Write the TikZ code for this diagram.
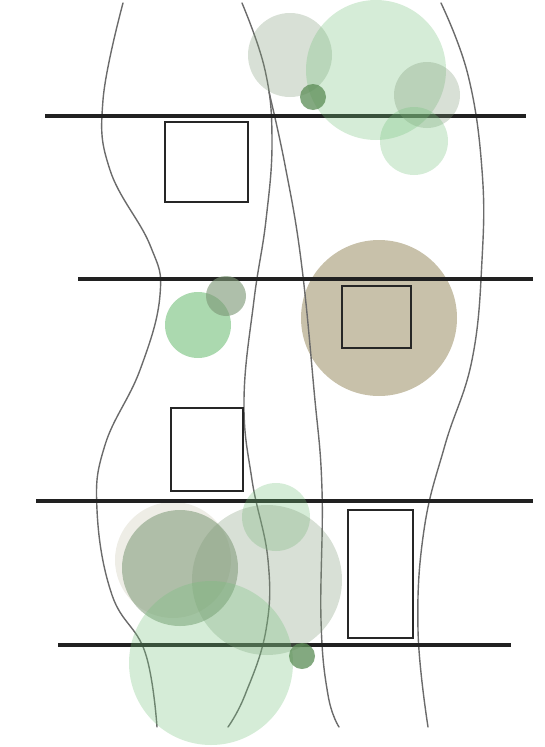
\documentclass[tikz,border=0pt]{standalone}
\definecolor{leaf}{RGB}{115,192,122}
\definecolor{sage}{RGB}{125,152,118}
\definecolor{moss}{RGB}{90,140,85}
\definecolor{soil}{RGB}{200,193,170}
\definecolor{sand}{RGB}{238,237,230}
\begin{document}
\begin{tikzpicture}[x=1pt, y=-1pt,
    strand/.style={line width=1.4pt, black!58, line cap=round},
    beam/.style={line width=4pt, black!87},
    plotbox/.style={line width=2.4pt, black!85},
    crown/.style={fill=#1, draw=none}]
    \useasboundingbox (0,0) rectangle (545,747);
    % Opaque ground discs
    \fill[soil] (379,318) circle[radius=78pt];
    \fill[sand] (173,560) circle[radius=58pt];
    % Wavy strands
    \draw[strand] plot[smooth, tension=0.7] coordinates {(123,3) (103,100) (110,170) (150,245) (160,295) (140,370) (105,445) (97,510) (112,595) (145,652) (157,727)};
    \draw[strand] plot[smooth, tension=0.7] coordinates {(242,3) (265,70) (272,140) (266,220) (254,300) (244,400) (252,480) (268,560) (266,630) (245,695) (228,727)};
    \draw[strand] plot[smooth, tension=0.7] coordinates {(269,92) (285,165) (301,260) (314,390) (322,490) (321,620) (328,695) (339,727)};
    \draw[strand] plot[smooth, tension=0.7] coordinates {(441,3) (468,75) (482,170) (482,260) (472,360) (445,445) (424,530) (418,630) (428,727)};
    % Beams
    \foreach \y/\a/\b in {116/45/526, 279/78/533, 501/36/533, 645/58/511} {
            \draw[beam] (\a,\y) -- (\b,\y);
        }
    % Plots
    \draw[plotbox, fill=white] (165,122) rectangle (248,202);
    \draw[plotbox] (342,286) rectangle (411,348);
    \draw[plotbox, fill=white] (171,408) rectangle (243,491);
    \draw[plotbox, fill=white] (348,510) rectangle (413,638);
    % Crowns, top group
    \fill[crown=sage, opacity=0.3] (290,55) circle[radius=42pt];
    \fill[crown=leaf, opacity=0.3] (376,70) circle[radius=70pt];
    \fill[crown=sage, opacity=0.3] (427,95) circle[radius=33pt];
    \fill[crown=leaf, opacity=0.3] (414,141) circle[radius=34pt];
    \fill[crown=moss, opacity=0.75] (313,97) circle[radius=13pt];
    % Crowns, middle group
    \fill[crown=leaf, opacity=0.6] (198,325) circle[radius=33pt];
    \fill[crown=sage, opacity=0.62] (226,296) circle[radius=20pt];
    % Crowns, bottom group
    \fill[crown=leaf, opacity=0.3] (276,517) circle[radius=34pt];
    \fill[crown=sage, opacity=0.55] (180,568) circle[radius=58pt];
    \fill[crown=sage, opacity=0.3] (267,580) circle[radius=75pt];
    \fill[crown=leaf, opacity=0.3] (211,663) circle[radius=82pt];
    \fill[crown=moss, opacity=0.75] (302,656) circle[radius=13pt];
\end{tikzpicture}
\end{document}
